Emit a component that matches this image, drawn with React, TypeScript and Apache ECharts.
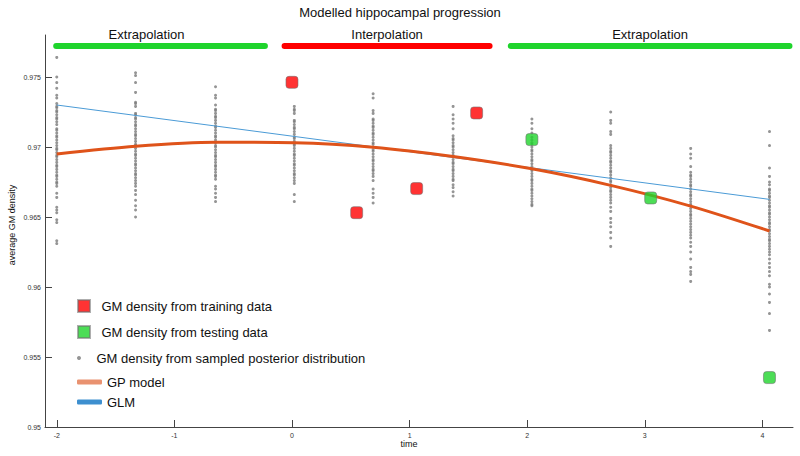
import { useEffect, useRef } from 'react';
import * as echarts from 'echarts';

// ---- data ----
const columnTimes = [-2.0, -1.33, -0.65, 0.02, 0.69, 1.37, 2.04, 2.71, 3.39, 4.06];

const posteriorCol1 = [0.9764, 0.975, 0.9746, 0.9742, 0.9737, 0.9735, 0.9731, 0.9729, 0.9728, 0.9726, 0.9725, 0.9723, 0.9721, 0.972, 0.9718, 0.9716, 0.9713, 0.9712, 0.971, 0.9708, 0.9707, 0.9705, 0.9703, 0.9701, 0.9699, 0.9698, 0.9696, 0.9694, 0.9693, 0.9691, 0.9689, 0.9687, 0.9686, 0.9684, 0.9682, 0.968, 0.9679, 0.9677, 0.9675, 0.9674, 0.9672, 0.9667, 0.9664, 0.9657, 0.9655, 0.9653, 0.9648, 0.9646, 0.9633, 0.9631];
const posteriorCol2 = [0.9753, 0.9751, 0.9746, 0.9739, 0.9732, 0.9731, 0.9729, 0.9724, 0.9723, 0.9721, 0.972, 0.9718, 0.9716, 0.9715, 0.9713, 0.9711, 0.9709, 0.9708, 0.9706, 0.9704, 0.9702, 0.9701, 0.9699, 0.9697, 0.9695, 0.9694, 0.9692, 0.969, 0.9688, 0.9687, 0.9685, 0.9683, 0.9681, 0.968, 0.9678, 0.9676, 0.9674, 0.9672, 0.9669, 0.9666, 0.9662, 0.9658, 0.9655, 0.965];
const posteriorCol3 = [0.9743, 0.9737, 0.9735, 0.973, 0.9727, 0.9726, 0.9724, 0.9722, 0.9721, 0.9719, 0.9717, 0.9715, 0.9714, 0.9712, 0.971, 0.9708, 0.9707, 0.9705, 0.9703, 0.9701, 0.97, 0.9698, 0.9696, 0.9694, 0.9693, 0.9691, 0.9689, 0.9687, 0.9686, 0.9684, 0.9682, 0.968, 0.9679, 0.9677, 0.9672, 0.967, 0.9667, 0.9664, 0.9661];
const posteriorCol4 = [0.9729, 0.9727, 0.9726, 0.9724, 0.9719, 0.9718, 0.9716, 0.9714, 0.9713, 0.9711, 0.9709, 0.9707, 0.9706, 0.9704, 0.9702, 0.9701, 0.9699, 0.9697, 0.9695, 0.9694, 0.9692, 0.969, 0.9688, 0.9687, 0.9685, 0.9683, 0.9681, 0.968, 0.9678, 0.9676, 0.9674, 0.9666, 0.9661];
const posteriorCol5 = [0.9738, 0.9735, 0.9726, 0.9724, 0.972, 0.9719, 0.9717, 0.9715, 0.9714, 0.9712, 0.971, 0.9709, 0.9707, 0.9705, 0.9703, 0.9702, 0.97, 0.9698, 0.9697, 0.9695, 0.9693, 0.9691, 0.969, 0.9688, 0.9686, 0.9684, 0.9683, 0.9681, 0.9679, 0.9676, 0.967, 0.9667, 0.9664, 0.966];
const posteriorCol6 = [0.9729, 0.9723, 0.972, 0.9717, 0.9713, 0.9708, 0.9706, 0.9705, 0.9703, 0.9701, 0.97, 0.9698, 0.9696, 0.9694, 0.9693, 0.9691, 0.9689, 0.9688, 0.9686, 0.9684, 0.9683, 0.9681, 0.9679, 0.9677, 0.9676, 0.9673, 0.9671, 0.9668, 0.9665];
const posteriorCol7 = [0.972, 0.9717, 0.9713, 0.971, 0.9707, 0.9705, 0.9703, 0.9702, 0.97, 0.9698, 0.9697, 0.9695, 0.9693, 0.9691, 0.969, 0.9688, 0.9686, 0.9684, 0.9683, 0.9681, 0.9679, 0.9677, 0.9676, 0.9674, 0.9672, 0.967, 0.9669, 0.9667, 0.9665, 0.9663, 0.9661, 0.9659, 0.9658];
const posteriorCol8 = [0.9725, 0.9719, 0.9717, 0.9711, 0.9709, 0.9701, 0.9699, 0.9697, 0.9696, 0.9694, 0.9692, 0.969, 0.9689, 0.9687, 0.9685, 0.9683, 0.9682, 0.968, 0.9678, 0.9676, 0.9675, 0.9673, 0.9671, 0.9669, 0.9668, 0.9666, 0.9664, 0.9662, 0.966, 0.9657, 0.9654, 0.9649, 0.9646, 0.9643, 0.9639, 0.9635, 0.9629];
const posteriorCol9 = [0.9699, 0.9695, 0.9692, 0.9686, 0.9682, 0.968, 0.9679, 0.9677, 0.9675, 0.9673, 0.9672, 0.967, 0.9668, 0.9666, 0.9665, 0.9663, 0.9661, 0.9659, 0.9658, 0.9656, 0.9654, 0.9652, 0.9651, 0.9649, 0.9647, 0.9645, 0.9643, 0.9641, 0.9639, 0.9637, 0.9635, 0.9632, 0.9629, 0.9625, 0.962, 0.9614, 0.9611, 0.9609, 0.9604];
const posteriorCol10 = [0.9711, 0.9701, 0.9685, 0.9679, 0.9675, 0.9673, 0.967, 0.9669, 0.9667, 0.9665, 0.9664, 0.9662, 0.966, 0.9658, 0.9657, 0.9655, 0.9653, 0.9652, 0.965, 0.9648, 0.9646, 0.9645, 0.9643, 0.9641, 0.964, 0.9638, 0.9636, 0.9634, 0.9633, 0.9631, 0.9629, 0.9627, 0.9625, 0.9623, 0.962, 0.9617, 0.9614, 0.9611, 0.9608, 0.9602, 0.96, 0.9595, 0.9589, 0.9581, 0.9569];
const posteriorColumns = [posteriorCol1, posteriorCol2, posteriorCol3, posteriorCol4, posteriorCol5, posteriorCol6, posteriorCol7, posteriorCol8, posteriorCol9, posteriorCol10];

const gpModelValues = [0.9695, 0.97005, 0.97034, 0.9703, 0.96998, 0.96932, 0.96844, 0.96726, 0.96578, 0.964];

const glmTimes = [-2.0, 4.06];
const glmValues = [0.973, 0.96626];

const trainingTimes = [0.0, 0.55, 1.06, 1.57];
const trainingValues = [0.97462, 0.96531, 0.96703, 0.97243];

const testingTimes = [2.04, 3.05, 4.06];
const testingValues = [0.97053, 0.96636, 0.95353];

const xTicks = [-2, -1, 0, 1, 2, 3, 4];
const yTicks = [0.95, 0.955, 0.96, 0.965, 0.97, 0.975];

const regionNames = ['Extrapolation', 'Interpolation', 'Extrapolation'];
const regionStarts = [-2.005, -0.063, 1.86];
const regionEnds = [-0.23, 1.68, 4.23];
const regionLevel = 0.9772;

const SERIES_TRAIN = 'GM density from training data';
const SERIES_TEST = 'GM density from testing data';
const SERIES_POST = 'GM density from sampled posterior distribution';
const SERIES_GP = 'GP model';
const SERIES_GLM = 'GLM';

const GREEN = '#1fd42c';
const RED = '#ff0000';
const ORANGE = '#df531a';
const BLUE = '#4b9bd6';
const FONT = '"Liberation Sans", Arial, sans-serif';

export default function App() {
  const ref = useRef<HTMLDivElement>(null);

  useEffect(() => {
    if (!ref.current) return;
    const chart = echarts.init(ref.current, null, { renderer: 'svg' });

    const posteriorData: number[][] = [];
    posteriorColumns.forEach((col, i) => {
      col.forEach((v) => posteriorData.push([columnTimes[i], v]));
    });
    const gpData = columnTimes.map((t, i) => [t, gpModelValues[i]]);
    const glmData = glmTimes.map((t, i) => [t, glmValues[i]]);
    const trainData = trainingTimes.map((t, i) => [t, trainingValues[i]]);
    const testData = testingTimes.map((t, i) => [t, testingValues[i]]);
    const regionColors = [GREEN, RED, GREEN];

    const markLineData = regionNames.map((name, i) => [
      {
        coord: [regionStarts[i], regionLevel],
        name,
        lineStyle: { color: regionColors[i] },
        label: i === 0 ? { padding: [0, 28, 0, 0] } : {},
      },
      { coord: [regionEnds[i], regionLevel] },
    ]);

    const squarePath = 'path://M0,0H10V10H0Z';
    const legendText = { fontSize: 13, color: '#111', lineHeight: 14, fontFamily: FONT };

    chart.setOption({
      animation: false,
      textStyle: { fontFamily: FONT },
      title: {
        text: 'Modelled hippocampal progression',
        left: 'center',
        top: 1,
        textStyle: { fontSize: 13, fontWeight: 'normal', color: '#111', fontFamily: FONT },
      },
      grid: { left: 45, right: 7, top: 35, bottom: 29, containLabel: false, outerBoundsMode: 'none' },
      legend: [
        {
          orient: 'vertical',
          left: 72,
          top: 294,
          itemWidth: 25,
          itemHeight: 12,
          itemGap: 12,
          selectedMode: false,
          textStyle: legendText,
          data: [
            { name: SERIES_TRAIN, icon: squarePath },
            { name: SERIES_TEST, icon: squarePath },
          ],
        },
        {
          orient: 'vertical',
          left: 72,
          top: 346,
          itemWidth: 25,
          itemHeight: 4,
          selectedMode: false,
          textStyle: legendText,
          data: [{ name: SERIES_POST, icon: 'circle' }],
        },
        {
          orient: 'vertical',
          left: 72,
          top: 370,
          itemWidth: 25,
          itemHeight: 5,
          itemGap: 6,
          selectedMode: false,
          textStyle: legendText,
          data: [
            { name: SERIES_GP, icon: 'roundRect', itemStyle: { color: '#e99270' } },
            { name: SERIES_GLM, icon: 'roundRect', itemStyle: { color: '#3d8fcf' } },
          ],
        },
      ],
      xAxis: {
        type: 'value',
        min: -2.1,
        max: 4.26,
        name: 'time',
        nameLocation: 'middle',
        nameGap: 12,
        nameMoveOverlap: false,
        nameTextStyle: { fontSize: 9, color: '#111', padding: [0, 20, 0, 0] },
        axisLine: { show: true, onZero: false, lineStyle: { color: '#444', width: 1 } },
        axisTick: { show: true, inside: true, length: 7, customValues: xTicks, lineStyle: { color: '#444' } },
        axisLabel: { customValues: xTicks, fontSize: 7, color: '#333', margin: 5 },
        splitLine: { show: false },
      },
      yAxis: {
        type: 'value',
        min: 0.95,
        max: 0.978,
        name: 'average GM density',
        nameLocation: 'middle',
        nameGap: 29,
        nameMoveOverlap: false,
        nameTextStyle: { fontSize: 9, color: '#111', padding: [0, 0, 0, 12] },
        axisLine: { show: true, onZero: false, lineStyle: { color: '#444', width: 1 } },
        axisTick: { show: true, inside: true, length: 7, customValues: yTicks, lineStyle: { color: '#444' } },
        axisLabel: { customValues: yTicks, fontSize: 7, color: '#333', margin: 4 },
        splitLine: { show: false },
      },
      series: [
        {
          name: SERIES_POST,
          type: 'scatter',
          data: posteriorData,
          symbol: 'circle',
          symbolSize: 3,
          itemStyle: { color: '#7a7a7a' },
          z: 1,
          silent: true,
        },
        {
          name: SERIES_GLM,
          type: 'line',
          data: glmData,
          showSymbol: false,
          symbol: 'none',
          lineStyle: { color: BLUE, width: 1 },
          itemStyle: { color: BLUE },
          z: 2,
          silent: true,
          markLine: {
            silent: true,
            symbol: ['none', 'none'],
            animation: false,
            lineStyle: { width: 6, type: 'solid', cap: 'round' },
            label: {
              show: true,
              position: 'middle',
              formatter: '{b}',
              fontSize: 13,
              color: '#111',
              distance: 5,
              fontFamily: FONT,
            },
            emphasis: { disabled: true },
            data: markLineData,
          },
        },
        {
          name: SERIES_GP,
          type: 'line',
          data: gpData,
          smooth: 0.3,
          showSymbol: false,
          symbol: 'none',
          lineStyle: { color: ORANGE, width: 3 },
          itemStyle: { color: ORANGE },
          z: 3,
          silent: true,
        },
        {
          name: SERIES_TRAIN,
          type: 'scatter',
          data: trainData,
          symbol: 'roundRect',
          symbolSize: 12,
          itemStyle: { color: RED, borderColor: 'rgba(110,110,110,0.7)', borderWidth: 1 },
          z: 4,
          silent: true,
        },
        {
          name: SERIES_TEST,
          type: 'scatter',
          data: testData,
          symbol: 'roundRect',
          symbolSize: 12,
          itemStyle: { color: GREEN, borderColor: 'rgba(110,110,110,0.7)', borderWidth: 1 },
          z: 4,
          silent: true,
        },
      ],
    });

    return () => chart.dispose();
  }, []);

  return (
    <div
      ref={ref}
      style={{ position: 'fixed', left: 0, top: 0, width: 800, height: 456, background: '#fff' }}
    />
  );
}
